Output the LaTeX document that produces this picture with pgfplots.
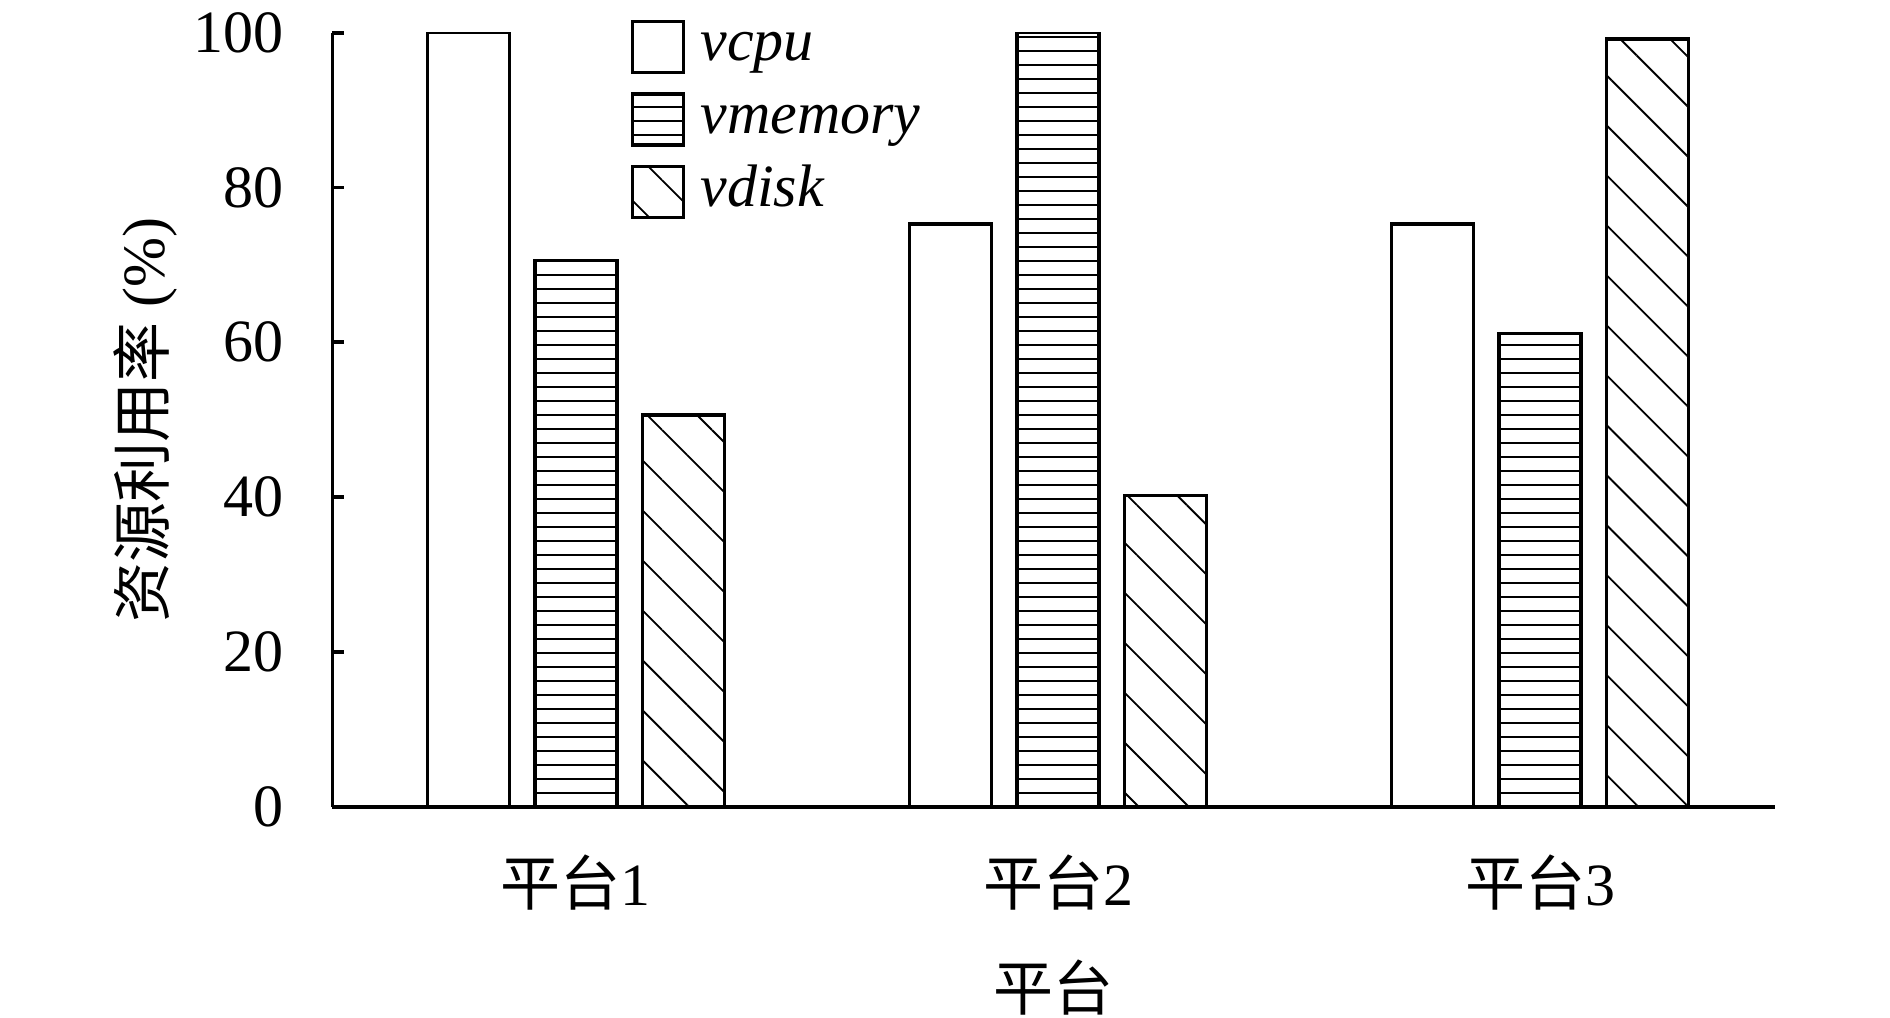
\documentclass[border=0pt]{standalone}
\usepackage{pgfplots}
\pgfplotsset{compat=1.18}
\usepackage{fontspec}
\setmainfont{Liberation Serif}
\newfontfamily\cjk{Noto Sans CJK SC}
\usetikzlibrary{patterns.meta}
\begin{document}
\begin{tikzpicture}
\path[use as bounding box] (-99.75pt,-63.15pt) rectangle (467.25pt,242pt);
\begin{axis}[
  at={(0,0)}, anchor=south west,
  scale only axis, width=432.8pt, height=232.2pt,
  xmin=-0.505, xmax=2.4875, ymin=0, ymax=100,
  axis x line*=bottom, axis y line*=left,
  axis line style={-, line width=1.15pt},
  xtick={0,1,2},
  xticklabels={{\cjk 平台}1,{\cjk 平台}2,{\cjk 平台}3},
  x tick style={draw=none},
  ytick={0,20,40,60,80,100},
  y tick style={line width=1.15pt, black},
  major tick length=3.5pt, tick align=inside,
  tick label style={font=\fontsize{18}{20}\selectfont},
  /pgf/number format/assume math mode=true,
  yticklabel style={anchor=east, inner sep=0pt, xshift=-14.5pt},
  xticklabel style={anchor=center, inner sep=0pt, yshift=-19.35pt},
  ylabel={{\cjk 资源利用率} (\%)},
  ylabel style={at={(axis description cs:-0.1295,0.5)}, anchor=center, font=\fontsize{18}{20}\selectfont},
  xlabel={\cjk 平台},
  xlabel style={at={(axis description cs:0.5,-0.234)}, anchor=center, font=\fontsize{18}{20}\selectfont},
  ybar, bar width=24.6pt,
  legend image code/.code={\draw[#1, line width=1pt] (0pt,-7.65pt) rectangle (15.3pt,7.65pt);},
  legend style={at={(axis description cs:0.2062,1.0203)}, anchor=north west, draw=none, fill=none,
    inner sep=0pt, font=\itshape\fontsize{18}{20}\selectfont, row sep=4.3pt, column sep=3.7pt,
    nodes={inner sep=1pt, text height=12pt, text depth=3.5pt}},
  legend cell align=left,
]
\addplot[draw=black, line width=1pt, fill=white, bar shift=-32.3pt]
  coordinates {(0,100) (1,75.3) (2,75.3)};
\addplot[draw=black, line width=1pt, fill=white, bar shift=0pt,
  postaction={pattern={Lines[angle=0, distance=4.2pt, line width=0.8pt]}}]
  coordinates {(0,70.6) (1,100) (2,61.1)};
\addplot[draw=black, line width=1pt, fill=white, bar shift=32.3pt,
  postaction={pattern={Lines[angle=-45, distance=10.6pt, line width=0.55pt]}}]
  coordinates {(0,50.6) (1,40.2) (2,99.2)};
\legend{vcpu, vmemory, vdisk}
\end{axis}
\end{tikzpicture}
\end{document}
